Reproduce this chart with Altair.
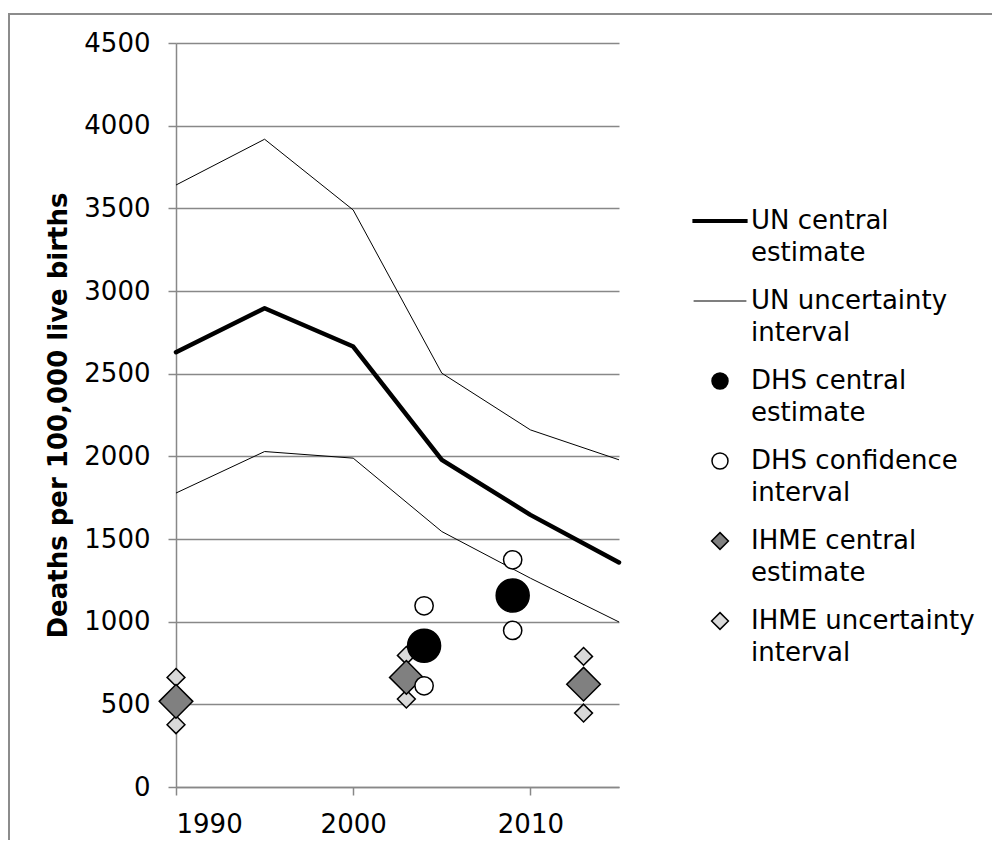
import altair as alt
import pandas as pd

SERIES = ["UN central estimate", "UN uncertainty interval", "DHS central estimate",
          "DHS confidence interval", "IHME central estimate", "IHME uncertainty interval"]

UN_YEARS = [1990, 1995, 2000, 2005, 2010, 2015]
UN_CENTRAL = [2630, 2896, 2664, 1979, 1646, 1358]
UN_UPPER = [3641, 3918, 3490, 2503, 2160, 1979]
UN_LOWER = [1778, 2029, 1989, 1545, 1263, 998]

DHS_YEARS = [2004, 2009]
DHS_CENTRAL = [854, 1158]
DHS_UPPER = [1096, 1374]
DHS_LOWER = [612, 947]

IHME_YEARS = [1990, 2003, 2013]
IHME_CENTRAL = [518, 663, 622]
IHME_UPPER = [663, 796, 790]
IHME_LOWER = [377, 532, 447]

Y_TICKS = [0, 500, 1000, 1500, 2000, 2500, 3000, 3500, 4000, 4500]
X_TICKS = [1990, 2000, 2010]

# legend / marker styling
THICK_BAR = "M-3.45,-0.25L3.45,-0.25L3.45,0.25L-3.45,0.25Z"
THIN_BAR = "M-3.3,-0.0625L3.3,-0.0625L3.3,0.0625L-3.3,0.0625Z"
CIRCLE_PATH = "M-1,0A1,1,0,1,1,1,0A1,1,0,1,1,-1,0Z"
DIAMOND_PATH = "M0,-1.05L1.05,0L0,1.05L-1.05,0Z"
SHAPES = [THICK_BAR, THIN_BAR, CIRCLE_PATH, CIRCLE_PATH, DIAMOND_PATH, DIAMOND_PATH]
FILLS = ["black", "black", "black", "white", "#808080", "#d9d9d9"]
STROKES = ["transparent", "transparent", "black", "black", "black", "black"]

FONT = "DejaVu Sans"
GRID = "#888888"

# ---- data tables
un_rows = []
for name, vals, sid in [("UN central estimate", UN_CENTRAL, "c"),
                        ("UN uncertainty interval", UN_UPPER, "u"),
                        ("UN uncertainty interval", UN_LOWER, "l")]:
    for yr, v in zip(UN_YEARS, vals):
        un_rows.append({"year": yr, "value": v, "series": name, "line": sid})
un_df = pd.DataFrame(un_rows)


def pts(name, years, *cols):
    rows = []
    for col in cols:
        for yr, v in zip(years, col):
            rows.append({"year": yr, "value": v, "series": name})
    return pd.DataFrame(rows)


ihme_ui_df = pts("IHME uncertainty interval", IHME_YEARS, IHME_UPPER, IHME_LOWER)
ihme_c_df = pts("IHME central estimate", IHME_YEARS, IHME_CENTRAL)
dhs_ci_df = pts("DHS confidence interval", DHS_YEARS, DHS_UPPER, DHS_LOWER)
dhs_c_df = pts("DHS central estimate", DHS_YEARS, DHS_CENTRAL)

legend = alt.Legend(
    title=None, orient="none", legendX=531, legendY=165, padding=0,
    labelExpr="[slice(datum.label, 0, lastindexof(datum.label, ' ')), slice(datum.label, lastindexof(datum.label, ' ') + 1)]",
    labelFont=FONT, labelFontSize=26, labelColor="black", labelLimit=400,
    labelOffset=18, labelBaseline="middle", symbolSize=256, symbolStrokeWidth=1.5,
    rowPadding=22,
)

x_enc = alt.X("year:Q", scale=alt.Scale(domain=[1990, 2015], nice=False, zero=False),
              axis=alt.Axis(values=X_TICKS, format="d", grid=False, title=None,
                            labelPadding=16))
y_enc = alt.Y("value:Q", scale=alt.Scale(domain=[0, 4500], nice=False),
              axis=alt.Axis(values=Y_TICKS, format="d", grid=True,
                            title="Deaths per 100,000 live births",
                            titleFontSize=26, titleFontWeight="bold", titleColor="black",
                            titleFont=FONT, titlePadding=12, labelPadding=18))

shape_enc = alt.Shape("series:N", scale=alt.Scale(domain=SERIES, range=SHAPES), legend=legend)
fill_enc = alt.Fill("series:N", scale=alt.Scale(domain=SERIES, range=FILLS), legend=legend)
stroke_enc = alt.Stroke("series:N", scale=alt.Scale(domain=SERIES, range=STROKES), legend=legend)

border = alt.Chart(pd.DataFrame({"k": [0]})).mark_rect(
    fill="transparent", stroke="#8c8c8c", strokeWidth=2
).encode(x=alt.value(-167), x2=alt.value(900), y=alt.value(-29), y2=alt.value(900))

un_interval = alt.Chart(un_df).transform_filter(
    "datum.series == 'UN uncertainty interval'"
).mark_line(color="black", strokeWidth=1, strokeJoin="round").encode(
    x=x_enc, y=y_enc, detail="line:N")

un_central = alt.Chart(un_df).transform_filter(
    "datum.series == 'UN central estimate'"
).mark_line(color="black", strokeWidth=4.5, strokeJoin="round", strokeCap="round").encode(
    x=x_enc, y=y_enc)


def point_layer(df, size):
    return alt.Chart(df).mark_point(filled=True, opacity=1, size=size, strokeWidth=1.5).encode(
        x=x_enc, y=y_enc, shape=shape_enc, fill=fill_enc, stroke=stroke_enc)


chart = alt.layer(
    border, un_interval, un_central,
    point_layer(ihme_ui_df, 289), point_layer(ihme_c_df, 1024),
    point_layer(dhs_ci_df, 335), point_layer(dhs_c_df, 1089),
).properties(
    width=443, height=744,
    autosize=alt.AutoSizeParams(type="none"),
    padding={"left": 168, "top": 35, "right": 373, "bottom": 53},
).configure(
    font=FONT,
    style={"guide-label": {"lineHeight": 32}},
).configure_view(stroke=None).configure_axis(
    domainColor=GRID, tickColor=GRID, gridColor=GRID, domainWidth=1.5, tickWidth=1.5,
    gridWidth=1.5, tickSize=8, labelFont=FONT, labelFontSize=26, labelColor="black",
)

chart.save("out.html", embed_options={"renderer": "svg", "actions": False})
